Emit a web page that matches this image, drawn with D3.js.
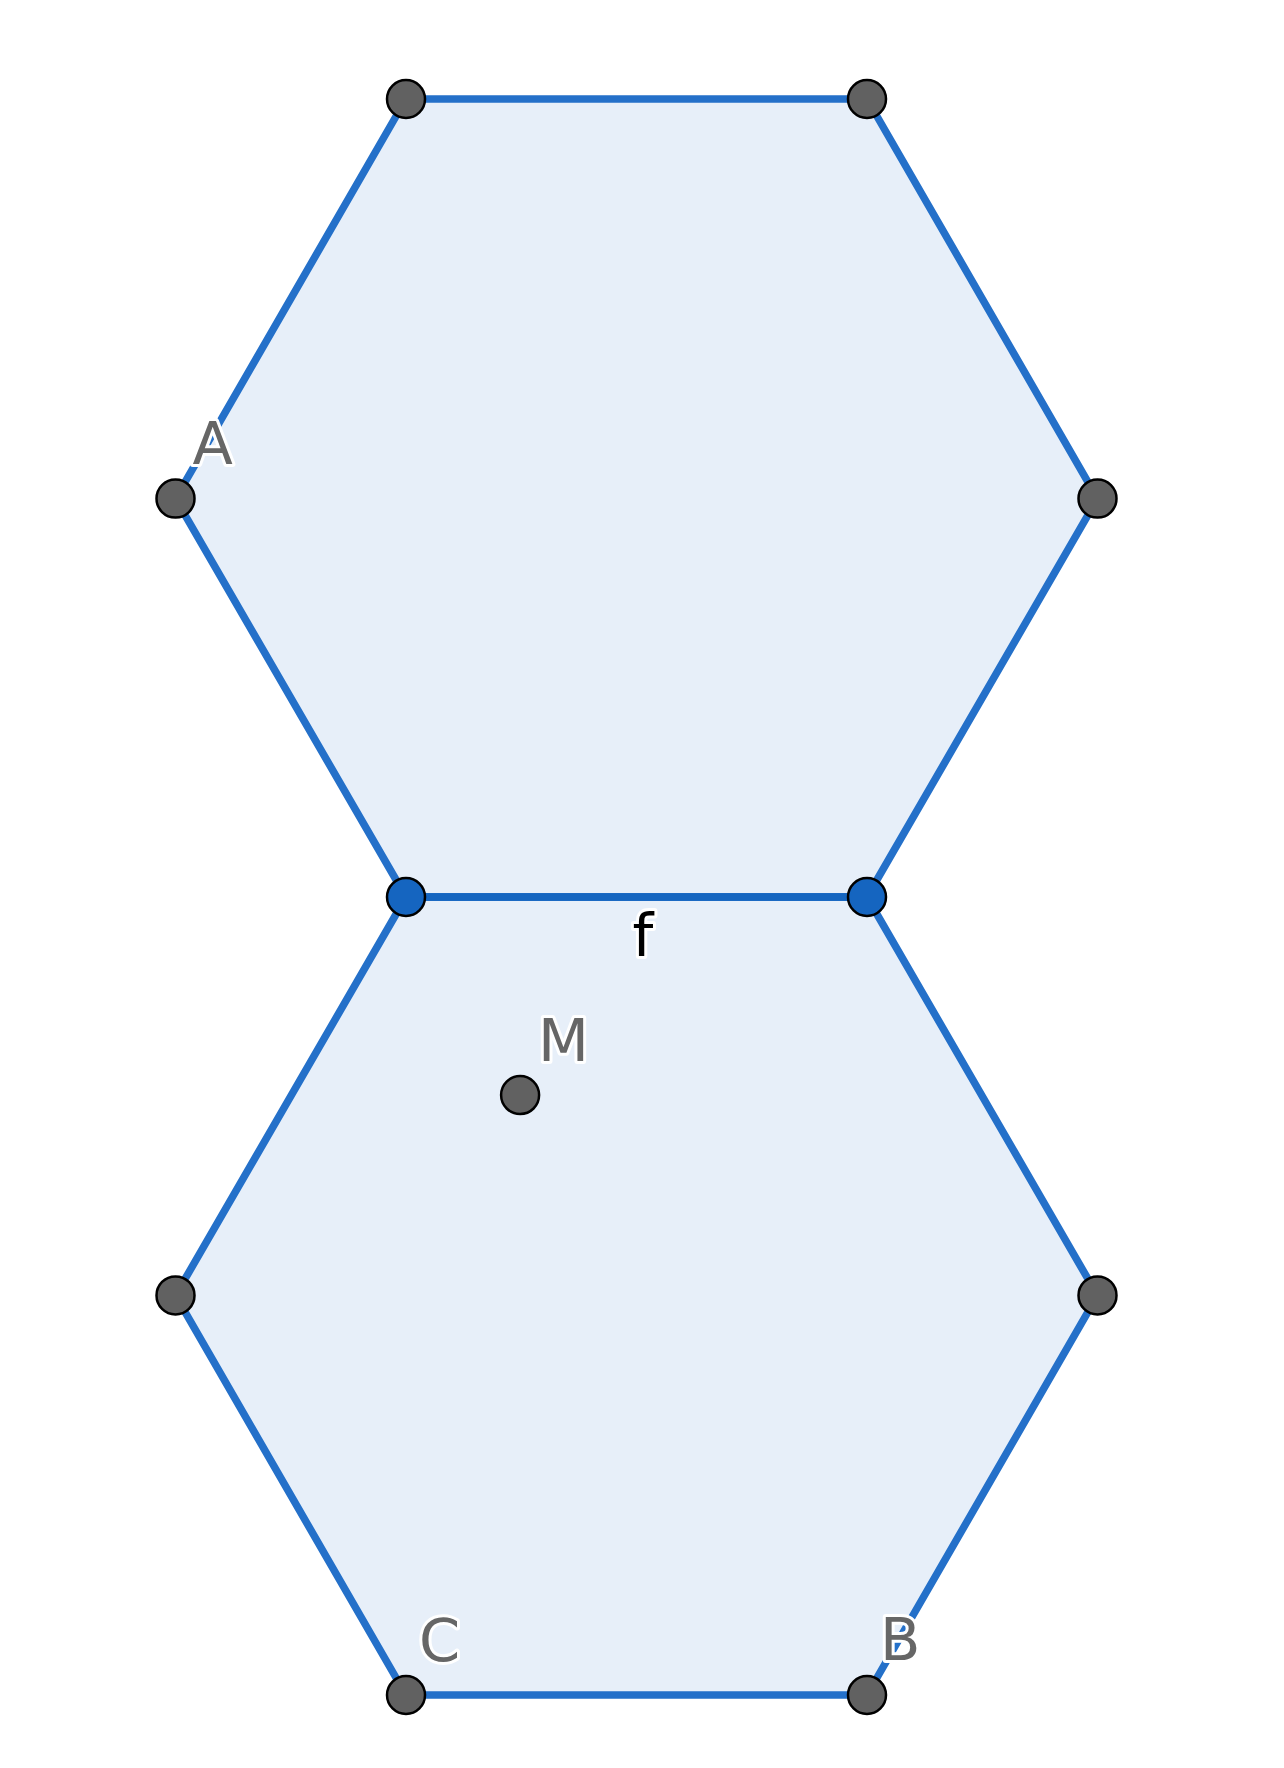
<!DOCTYPE html>
<html>
<head>
<meta charset="utf-8">
<script src="https://cdn.jsdelivr.net/npm/d3@7"></script>
<style>
  html, body { margin: 0; padding: 0; background: #fff; }
</style>
</head>
<body>
<div id="chart"></div>
<script>
// vertices of the two hexagons, in drawing units (side = 4)
const topHexX = [-2, 2, 4, 2, -2, -4];
const topHexY = [6.93, 6.93, 3.46, 0, 0, 3.46];
const botHexX = [-2, 2, 4, 2, -2, -4];
const botHexY = [0, 0, -3.46, -6.93, -6.93, -3.46];

// segment f (shared edge)
const segX = [-2, 2];
const segY = [0, 0];

// points drawn on top
const pointX = [-2, 2, 4, 2, -2, -4, 4, 2, -2, -4, -1.01];
const pointY = [6.93, 6.93, 3.46, 0, 0, 3.46, -3.46, -6.93, -6.93, -3.46, -1.72];
const pointKind = ["g", "g", "g", "b", "b", "g", "g", "g", "g", "g", "g"];

// labels
const labelText = ["A", "C", "B", "M", "f"];
const labelX = [-4, -2, 2, -1.01, 0];
const labelY = [3.46, -6.93, -6.93, -1.72, 0];
const labelDx = [17, 13, 13, 18, -4];
const labelDy = [-35, -34, -35, -34, 59];
const labelColor = ["#666666", "#666666", "#666666", "#666666", "#000000"];

const width = 1284, height = 1768;

const x = d3.scaleLinear().domain([-4, 4]).range([175.5, 1097.5]);
const y = d3.scaleLinear().domain([6.93, -6.93]).range([99, 1695]);

const svg = d3.select("#chart")
  .append("svg")
  .attr("width", width)
  .attr("height", height)
  .style("background-color", "white");

const line = d3.line().x(d => x(d[0])).y(d => y(d[1]));

// polygons
[[topHexX, topHexY], [botHexX, botHexY]].forEach(([xs, ys]) => {
  const pts = xs.map((v, i) => [v, ys[i]]);
  svg.append("path")
    .attr("d", line(pts) + "Z")
    .attr("fill", "#1565c0")
    .attr("fill-opacity", 0.1)
    .attr("stroke", "#2470c9")
    .attr("stroke-width", 7.5)
    .attr("stroke-linejoin", "round");
});

// segment f
svg.append("path")
  .attr("d", line(segX.map((v, i) => [v, segY[i]])))
  .attr("stroke", "#1565c0")
  .attr("stroke-width", 7.5)
  .attr("fill", "none");

// labels with white halo
svg.selectAll("text.lbl")
  .data(labelText)
  .enter().append("text")
  .attr("class", "lbl")
  .attr("x", (d, i) => x(labelX[i]) + labelDx[i])
  .attr("y", (d, i) => y(labelY[i]) + labelDy[i])
  .attr("font-family", "DejaVu Sans, sans-serif")
  .attr("font-size", 59)
  .attr("fill", (d, i) => labelColor[i])
  .attr("stroke", "white")
  .attr("stroke-width", 6)
  .attr("stroke-linejoin", "round")
  .attr("paint-order", "stroke")
  .text(d => d);

// points
svg.selectAll("circle")
  .data(pointX)
  .enter().append("circle")
  .attr("cx", d => x(d))
  .attr("cy", (d, i) => y(pointY[i]))
  .attr("r", 19)
  .attr("fill", (d, i) => pointKind[i] === "b" ? "#1565c0" : "#616161")
  .attr("stroke", "black")
  .attr("stroke-width", 2.5);
</script>
</body>
</html>
